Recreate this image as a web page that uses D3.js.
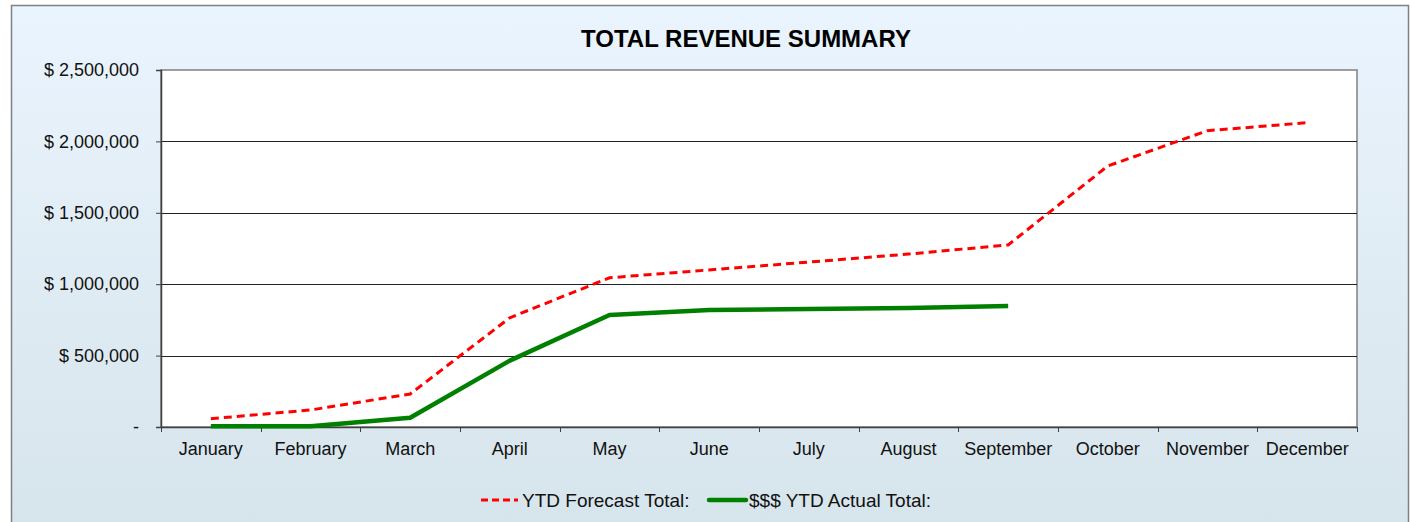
<!DOCTYPE html>
<html>
<head>
<meta charset="utf-8">
<script src="https://cdn.jsdelivr.net/npm/d3@7"></script>
<style>
  body { margin: 0; background: #fff; }
  svg { display: block; font-family: "Liberation Sans", Arial, sans-serif; }
</style>
</head>
<body>
<script>
const months = ["January", "February", "March", "April", "May", "June",
                "July", "August", "September", "October", "November", "December"]
const forecast = [58000, 119000, 231000, 765000, 1045000, 1100000,
                  1155000, 1211000, 1275000, 1828000, 2075000, 2131000]
const actual = [5000, 5000, 65000, 465000, 784000, 820000,
                826000, 833000, 847000]
const yTicks = [0, 500000, 1000000, 1500000, 2000000, 2500000]

const width = 1410, height = 522
const plot = {left: 161, top: 70, right: 1357, bottom: 427}

const svg = d3.select("body").append("svg")
    .attr("width", width)
    .attr("height", height)

const defs = svg.append("defs")
const grad = defs.append("linearGradient")
    .attr("id", "bg")
    .attr("x1", 0).attr("y1", 0).attr("x2", 0).attr("y2", 1)
grad.append("stop").attr("offset", "0%").attr("stop-color", "#eaf4fe")
grad.append("stop").attr("offset", "100%").attr("stop-color", "#d6e4eb")

// outer chart box
svg.append("rect")
    .attr("x", 11.5).attr("y", 5.5)
    .attr("width", 1397).attr("height", 530)
    .attr("fill", "url(#bg)")
    .attr("stroke", "#808080")
    .attr("stroke-width", 1.5)

svg.append("text")
    .attr("x", 746)
    .attr("y", 47)
    .attr("text-anchor", "middle")
    .style("font-size", "24px")
    .style("font-weight", "bold")
    .attr("fill", "#000")
    .text("TOTAL REVENUE SUMMARY")

const x = d3.scaleBand()
    .domain(months)
    .range([plot.left, plot.right])

const y = d3.scaleLinear()
    .domain([0, 2500000])
    .range([plot.bottom, plot.top])

// plot area
svg.append("rect")
    .attr("x", plot.left).attr("y", plot.top)
    .attr("width", plot.right - plot.left)
    .attr("height", plot.bottom - plot.top)
    .attr("fill", "#fff")
    .attr("stroke", "#808080")
    .attr("stroke-width", 1.5)

// gridlines
svg.append("g")
    .selectAll("line")
    .data(yTicks.slice(1, -1))
    .enter().append("line")
    .attr("x1", plot.left).attr("x2", plot.right)
    .attr("y1", d => Math.round(y(d)) + 0.5)
    .attr("y2", d => Math.round(y(d)) + 0.5)
    .attr("stroke", "#222")
    .attr("stroke-width", 1.2)

const fmt = d3.format(",")
const yAxis = svg.append("g")
    .attr("transform", "translate(" + plot.left + ",0)")
    .call(d3.axisLeft(y)
        .tickValues(yTicks)
        .tickSize(5)
        .tickPadding(17)
        .tickFormat(d => d == 0 ? "-" : "$ " + fmt(d)))
yAxis.select(".domain").attr("stroke", "#404040").attr("stroke-width", 1.5)
yAxis.selectAll(".tick line").attr("stroke", "#404040")
yAxis.selectAll("text")
    .style("font-size", "18px")
    .attr("fill", "#111")
    .style("font-family", "'Liberation Sans', Arial, sans-serif")

// x axis with ticks at category boundaries
const xAxis = svg.append("g")
    .attr("transform", "translate(0," + plot.bottom + ")")
    .call(d3.axisBottom(x).tickSize(0).tickPadding(15))
xAxis.select(".domain").attr("stroke", "#404040").attr("stroke-width", 1.5)
xAxis.selectAll("text")
    .style("font-size", "18px")
    .attr("fill", "#111")
    .style("font-family", "'Liberation Sans', Arial, sans-serif")
xAxis.selectAll(".bound")
    .data(d3.range(months.length + 1))
    .enter().append("line")
    .attr("x1", i => Math.round(plot.left + i * x.step()) + 0.5)
    .attr("x2", i => Math.round(plot.left + i * x.step()) + 0.5)
    .attr("y1", 0).attr("y2", 5)
    .attr("stroke", "#404040")

const line = d3.line()
    .x((d, i) => x(months[i]) + x.bandwidth() / 2)
    .y(d => y(d))
    .curve(d3.curveLinear)

svg.append("path")
    .attr("d", line(actual))
    .attr("fill", "none")
    .attr("stroke", "#008000")
    .attr("stroke-width", 4.5)
    .attr("stroke-linejoin", "round")

svg.append("path")
    .attr("d", line(forecast))
    .attr("fill", "none")
    .attr("stroke", "#ff0000")
    .attr("stroke-width", 3)
    .attr("stroke-dasharray", "8,5")

// legend
const legend = svg.append("g")
legend.append("line")
    .attr("x1", 481).attr("x2", 518)
    .attr("y1", 500).attr("y2", 500)
    .attr("stroke", "#ff0000")
    .attr("stroke-width", 3)
    .attr("stroke-dasharray", "7,4")
legend.append("text")
    .attr("x", 522).attr("y", 507)
    .style("font-size", "19px")
    .attr("fill", "#111")
    .text("YTD Forecast Total:")
legend.append("line")
    .attr("x1", 709).attr("x2", 746)
    .attr("y1", 500).attr("y2", 500)
    .attr("stroke", "#008000")
    .attr("stroke-width", 4.5)
    .attr("stroke-linecap", "round")
legend.append("text")
    .attr("x", 749).attr("y", 507)
    .style("font-size", "19px")
    .attr("fill", "#111")
    .text("$$$ YTD Actual Total:")
</script>
</body>
</html>
